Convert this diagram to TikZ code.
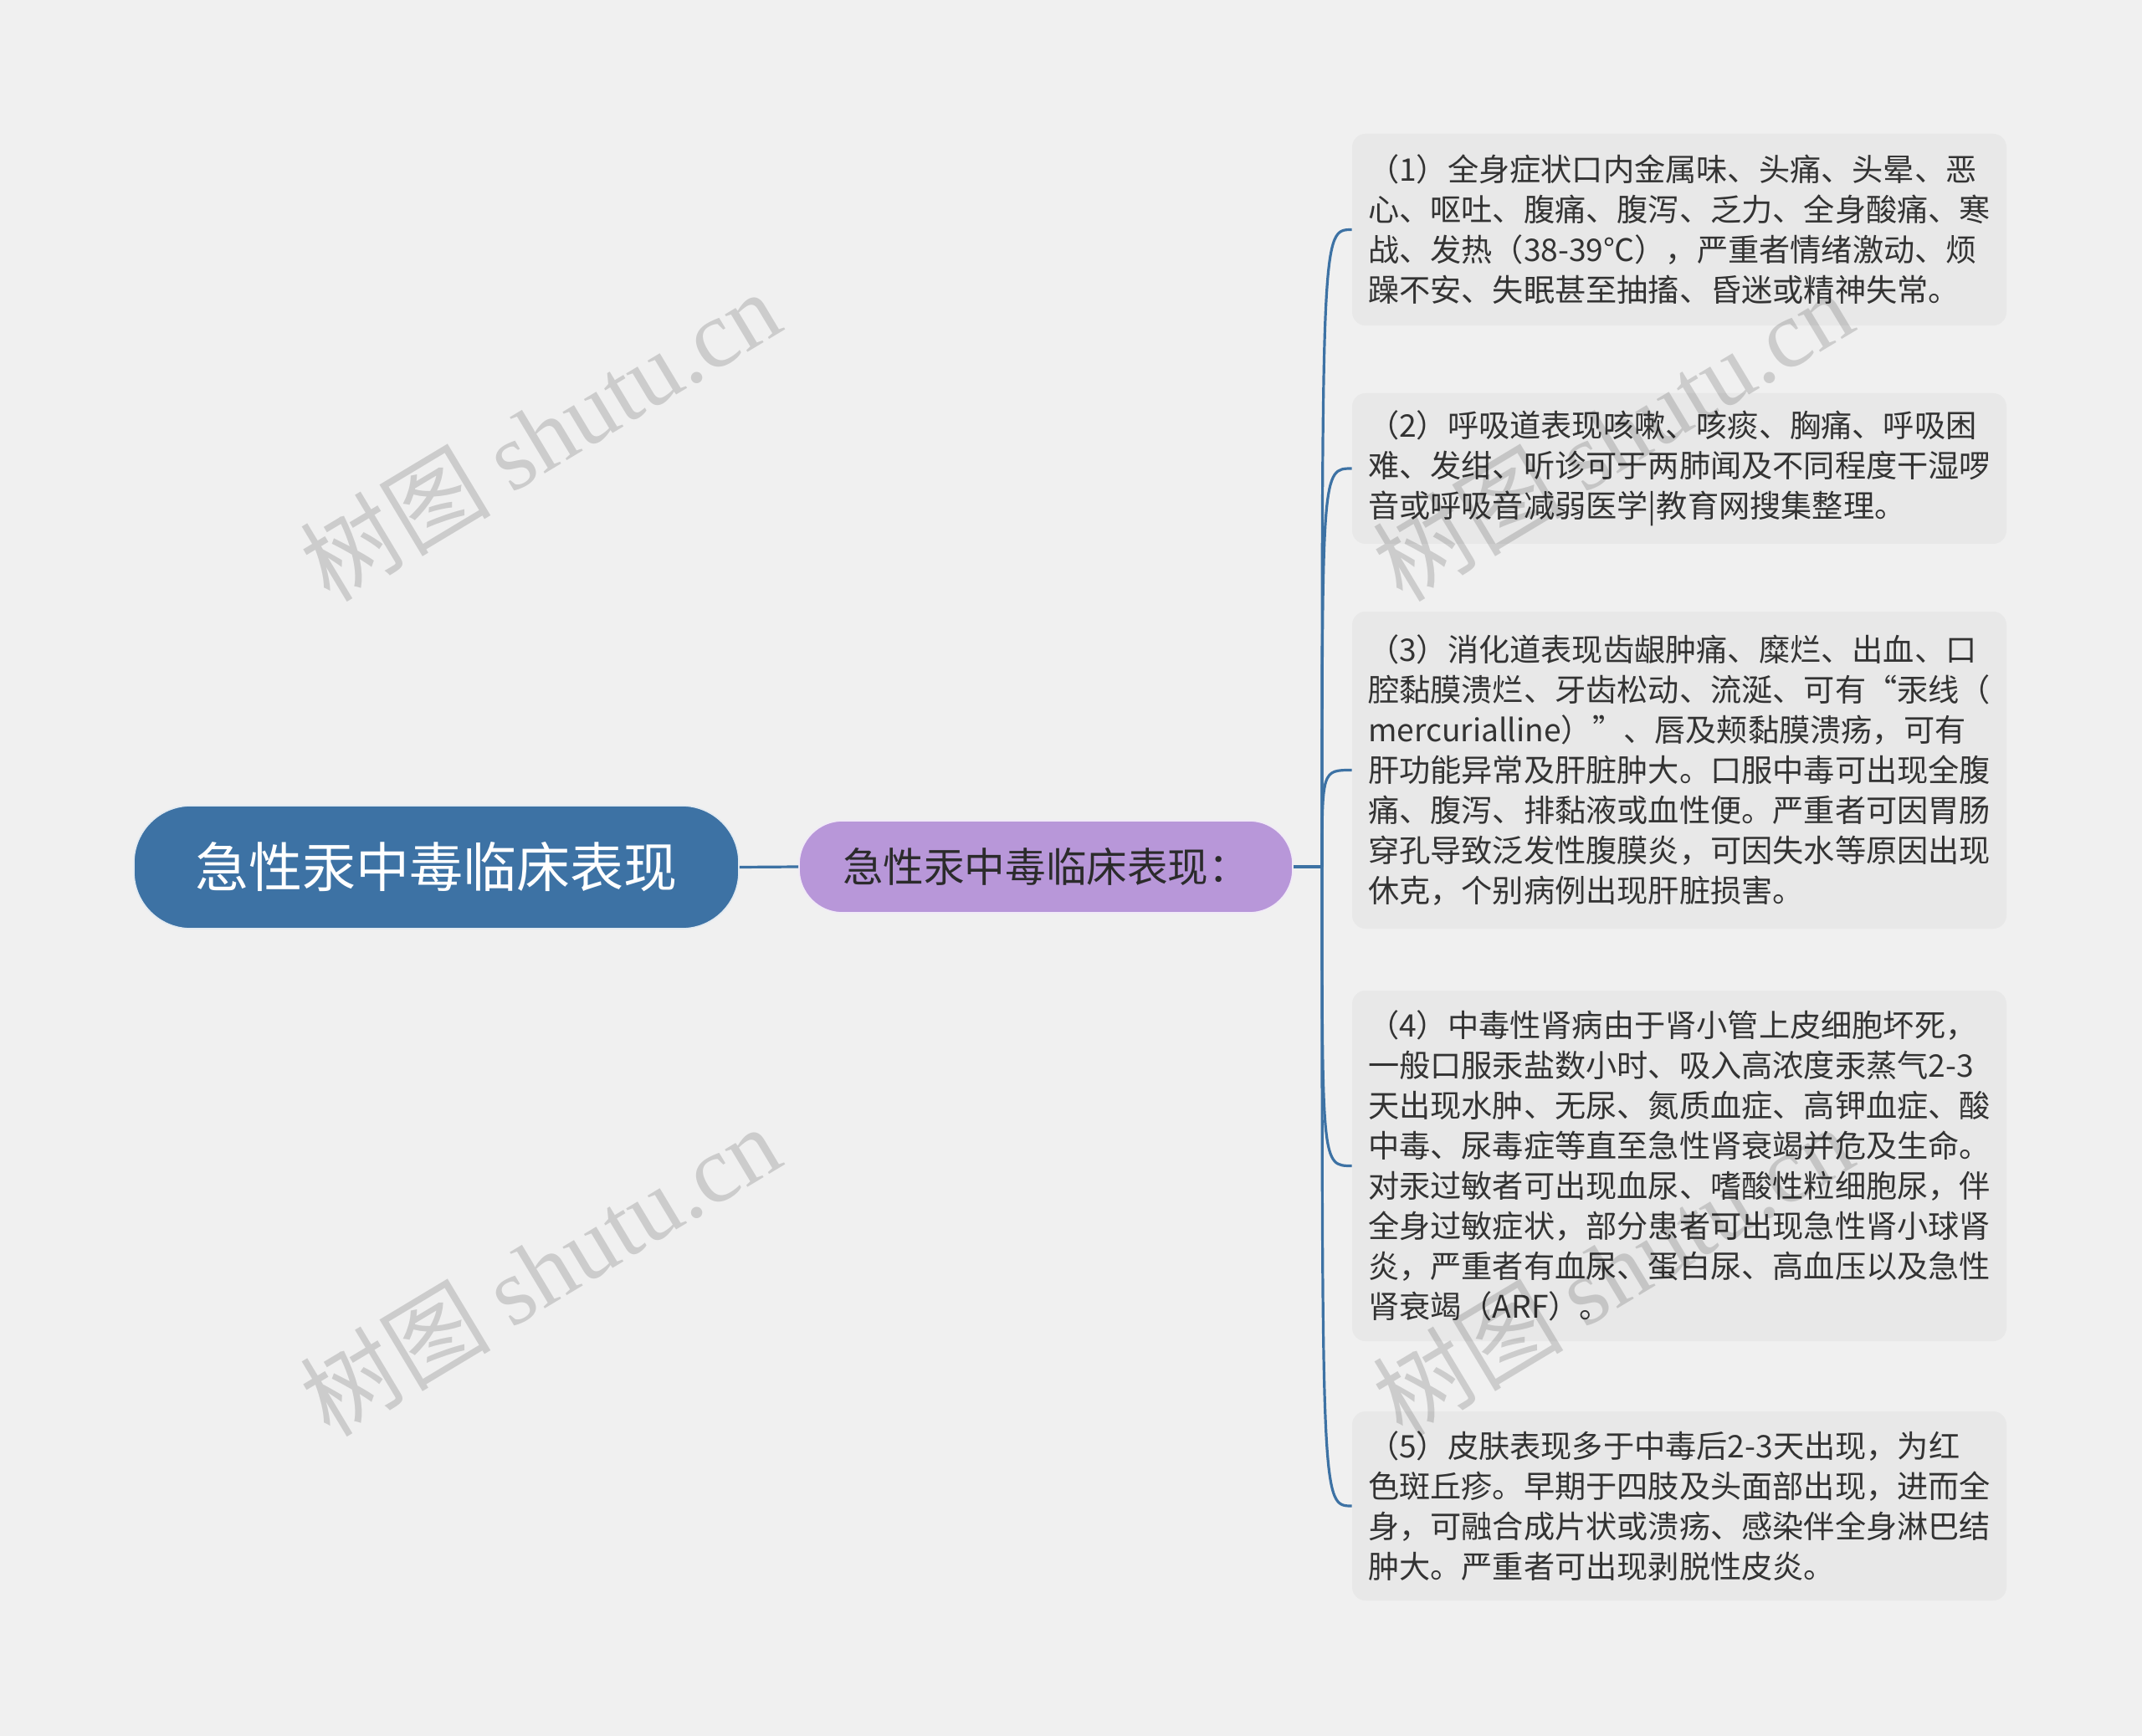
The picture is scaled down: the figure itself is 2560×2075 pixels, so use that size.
\documentclass[tikz,border=0pt]{standalone}
\usepackage{fontspec}
\setmainfont{Noto Sans CJK SC}
\newfontfamily\cjk{Noto Sans CJK SC}
\newfontfamily\wmfont{Liberation Serif}
\usetikzlibrary{calc}
\definecolor{bgc}{HTML}{F0F0F0}
\definecolor{rootc}{HTML}{3D72A4}
\definecolor{mainc}{HTML}{B897D9}
\definecolor{boxc}{HTML}{E8E8E8}
\definecolor{txtc}{HTML}{333333}
\definecolor{maintxt}{HTML}{2B2B2B}
\tikzset{
  rootnode/.style={fill=rootc, draw=white!85!rootc, line width=0.8pt, rounded corners=34pt, minimum width=361.5pt, minimum height=73.5pt, inner sep=0pt, text=white, font=\fontsize{32pt}{38pt}\selectfont},
  mainnode/.style={fill=mainc, draw=white!80!mainc, line width=0.8pt, rounded corners=26pt, minimum width=295pt, minimum height=55pt, inner sep=0pt, text=maintxt, font=\fontsize{24.3pt}{30pt}\selectfont},
  leafbox/.style={fill=boxc, rounded corners=8pt, text width=372pt, inner xsep=9.5pt, inner ysep=0pt, align=left, text=txtc, font=\fontsize{18.6pt}{24pt}\selectfont},
  conn/.style={draw=rootc, line width=1.6pt},
  wm/.style={text=black, opacity=0.15, rotate=31, font=\fontsize{57pt}{66pt}\selectfont, inner sep=0pt}
}
\begin{document}
\begin{tikzpicture}[x=0.5pt, y=-0.5pt]
\fill[bgc] (0,0) rectangle (2560,2075);
\useasboundingbox (0,0) rectangle (2560,2075);

\node[rootnode] (root) at (521.5,1036.5) {急性汞中毒临床表现};
\node[mainnode] (main) at (1250,1036) {急性汞中毒临床表现：};

\node[leafbox, minimum height=114.5pt] (b1) at (2007,274.5) {（1）全身症状口内金属味、头痛、头晕、恶\\心、呕吐、腹痛、腹泻、乏力、全身酸痛、寒\\战、发热（38-39℃），严重者情绪激动、烦\\躁不安、失眠甚至抽搐、昏迷或精神失常。};
\node[leafbox, minimum height=90pt] (b2) at (2007,560) {（2）呼吸道表现咳嗽、咳痰、胸痛、呼吸困\\难、发绀、听诊可于两肺闻及不同程度干湿啰\\音或呼吸音减弱医学|教育网搜集整理。};
\node[leafbox, minimum height=189.5pt] (b3) at (2007,920.5) {（3）消化道表现齿龈肿痛、糜烂、出血、口\\腔黏膜溃烂、牙齿松动、流涎、可有“汞线（\\mercurialline）”、唇及颊黏膜溃疡，可有\\肝功能异常及肝脏肿大。口服中毒可出现全腹\\痛、腹泻、排黏液或血性便。严重者可因胃肠\\穿孔导致泛发性腹膜炎，可因失水等原因出现\\休克，个别病例出现肝脏损害。};
\node[leafbox, minimum height=209.5pt] (b4) at (2007,1393.5) {（4）中毒性肾病由于肾小管上皮细胞坏死，\\一般口服汞盐数小时、吸入高浓度汞蒸气2-3\\天出现水肿、无尿、氮质血症、高钾血症、酸\\中毒、尿毒症等直至急性肾衰竭并危及生命。\\对汞过敏者可出现血尿、嗜酸性粒细胞尿，伴\\全身过敏症状，部分患者可出现急性肾小球肾\\炎，严重者有血尿、蛋白尿、高血压以及急性\\肾衰竭（ARF）。};
\node[leafbox, minimum height=113pt] (b5) at (2007,1800) {（5）皮肤表现多于中毒后2-3天出现，为红\\色斑丘疹。早期于四肢及头面部出现，进而全\\身，可融合成片状或溃疡、感染伴全身淋巴结\\肿大。严重者可出现剥脱性皮炎。};

\draw[conn] (root.east) -- (main.west);
\coordinate (j) at (1580,1036);
\draw[conn] (main.east) -- (j);
\foreach \b in {b1,b2,b3,b4,b5}{
  \draw[conn] (j) .. controls ($(j)!(\b.west)!($(j)+(0,10)$)$) .. (\b.west);
}

\node[wm] (wm1) at (645,520) {\cjk 树图 \wmfont shutu.cn};
\node[wm] (wm2) at (645,1518) {\cjk 树图 \wmfont shutu.cn};
\node[wm] (wm3) at (1927,520) {\cjk 树图 \wmfont shutu.cn};
\node[wm] (wm4) at (1927,1518) {\cjk 树图 \wmfont shutu.cn};
\end{tikzpicture}
\end{document}
